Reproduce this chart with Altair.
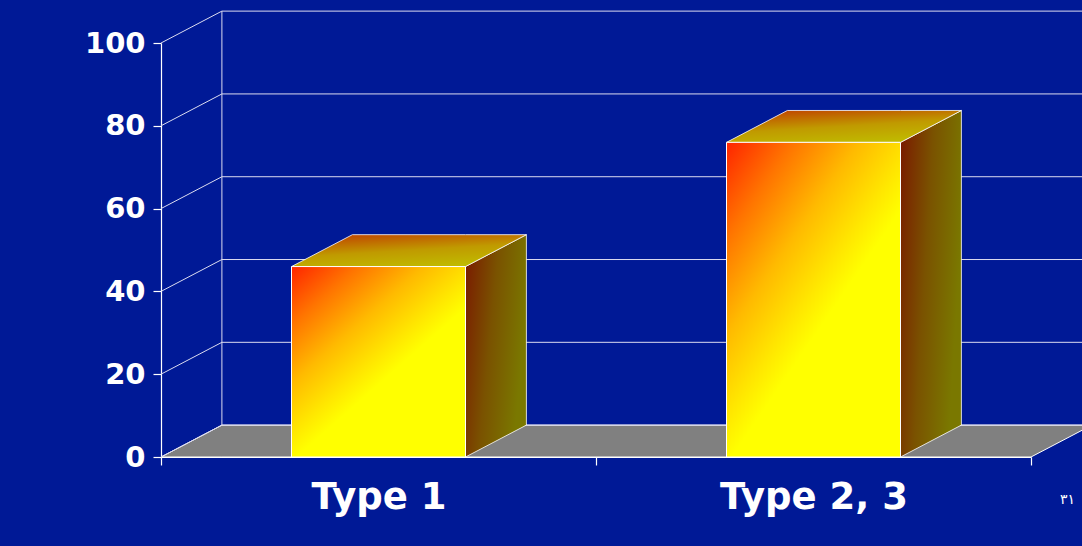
import altair as alt
import pandas as pd

# ---- data ----
categories = ["Type 1", "Type 2, 3"]
values = [46, 76]
y_ticks = [0, 20, 40, 60, 80, 100]
slide_number = "٣١"

# ---- style / layout constants ----
BG = "#001996"
GRID = "#dcdcf0"
FONT = "DejaVu Sans"
DX = 0.14      # depth offset (category units)
DY = 7.7       # depth offset (value units)
HALF = 0.2     # half bar width (category units)
WALL_END = 2.6 # back wall runs off the right edge

n = len(categories)
centers = [i + 0.5 for i in range(n)]

xs = alt.Scale(domain=[0, n], nice=False, zero=False)
ys = alt.Scale(domain=[0, 100], nice=False, zero=False)

label_expr = " : ".join(
    f"datum.value == {c} ? '{name}'" for c, name in zip(centers, categories)
) + " : ''"

# floor parallelogram
floor_df = pd.DataFrame({
    "x": [0, DX, n, n + DX],
    "y": [0, 0, 0, DY],
    "y2": [0, DY, DY, DY],
})

# wall lines
rows = []
for t in y_ticks:
    rows.append({"x": DX, "x2": WALL_END, "y": t + DY, "y2": t + DY})   # back wall grid
    rows.append({"x": 0, "x2": DX, "y": t, "y2": t + DY})              # side wall slants
rows.append({"x": DX, "x2": DX, "y": DY, "y2": y_ticks[-1] + DY})      # back wall corner
rules_df = pd.DataFrame(rows)

front_rows, side_rows, top_rows = [], [], []
for cat, c, v in zip(categories, centers, values):
    l, r = c - HALF, c + HALF
    front_rows.append({"cat": cat, "x": l, "x2": r, "y": 0, "y2": v})
    side_rows += [
        {"cat": cat, "x": r, "y": 0, "y2": v},
        {"cat": cat, "x": r + DX, "y": DY, "y2": v + DY},
    ]
    top_rows += [
        {"cat": cat, "x": l, "y": v, "y2": v},
        {"cat": cat, "x": l + DX, "y": v, "y2": v + DY},
        {"cat": cat, "x": r, "y": v, "y2": v + DY},
        {"cat": cat, "x": r + DX, "y": v + DY, "y2": v + DY},
    ]
front_df = pd.DataFrame(front_rows)
side_df = pd.DataFrame(side_rows)
top_df = pd.DataFrame(top_rows)


def grad(stops, x1, y1, x2, y2):
    return alt.LinearGradient(
        gradient="linear",
        stops=[alt.GradientStop(color=col, offset=o) for o, col in stops],
        x1=x1, y1=y1, x2=x2, y2=y2,
    )


front_grad = grad([(0, "#ff2400"), (0.3, "#ff7400"), (0.6, "#ffba00"),
                   (0.85, "#ffe600"), (1, "#ffff00")], 0, 0, 0.5, 0.62)
side_grad = grad([(0, "#7a1800"), (0.5, "#7a5200"), (1, "#7a7800")], 0, 0, 1, 0.35)
top_grad = grad([(0, "#c04800"), (0.5, "#c09a00"), (1, "#c0bc00")], 0.25, 0, 0.7, 1)

x_axis = alt.Axis(
    values=[0, 0.5, 1, 1.5, 2], labelExpr=label_expr, title=None, grid=False,
    domainColor="white", domainWidth=1.2,
    tickColor={"condition": {"test": "datum.value % 1 == 0", "value": "white"},
               "value": "rgba(0,0,0,0)"},
    tickSize=8, tickWidth=1.2,
    labelColor="white", labelFont=FONT, labelFontWeight="bold", labelFontSize=37,
    labelPadding=14, labelFlush=False, labelOverlap=False, labelBound=False,
    labelLimit=500,
)
y_axis = alt.Axis(
    values=y_ticks, title=None, grid=False,
    domainColor="white", domainWidth=1.2, tickColor="white", tickSize=8, tickWidth=1.2,
    labelColor="white", labelFont=FONT, labelFontWeight="bold", labelFontSize=29,
    labelPadding=8,
)

X = alt.X("x:Q", scale=xs, axis=x_axis)
Y = alt.Y("y:Q", scale=ys, axis=y_axis)

floor = alt.Chart(floor_df).mark_area(
    color="#808080", stroke="white", strokeWidth=1, opacity=1
).encode(x=X, y=Y, y2="y2:Q")

rules = alt.Chart(rules_df).mark_rule(color=GRID, strokeWidth=1).encode(
    x=X, x2="x2:Q", y=Y, y2="y2:Q",
)

side = alt.Chart(side_df).mark_area(
    fill=side_grad, stroke="white", strokeWidth=0.8, opacity=1
).encode(x=X, y=Y, y2="y2:Q", detail="cat:N")

top = alt.Chart(top_df).mark_area(
    fill=top_grad, stroke="white", strokeWidth=0.8, opacity=1
).encode(x=X, y=Y, y2="y2:Q", detail="cat:N")

front = alt.Chart(front_df).mark_rect(
    fill=front_grad, stroke="white", strokeWidth=1
).encode(x=X, x2="x2:Q", y=Y, y2="y2:Q")

chart = alt.layer(floor, rules, side, top, front).properties(
    width=870, height=414,
    padding={"left": 161, "top": 43, "right": 51, "bottom": 89},
    autosize=alt.AutoSizeParams(type="none"),
    background=BG,
    title=alt.TitleParams(
        slide_number, orient="bottom", anchor="end", frame="group",
        fontSize=14, color="white", font=FONT, fontWeight="normal", dx=44, offset=-22,
    ),
).configure_view(stroke=None).configure_axis(zindex=1)

chart.save("out.html", embed_options={"renderer": "svg", "actions": False})
